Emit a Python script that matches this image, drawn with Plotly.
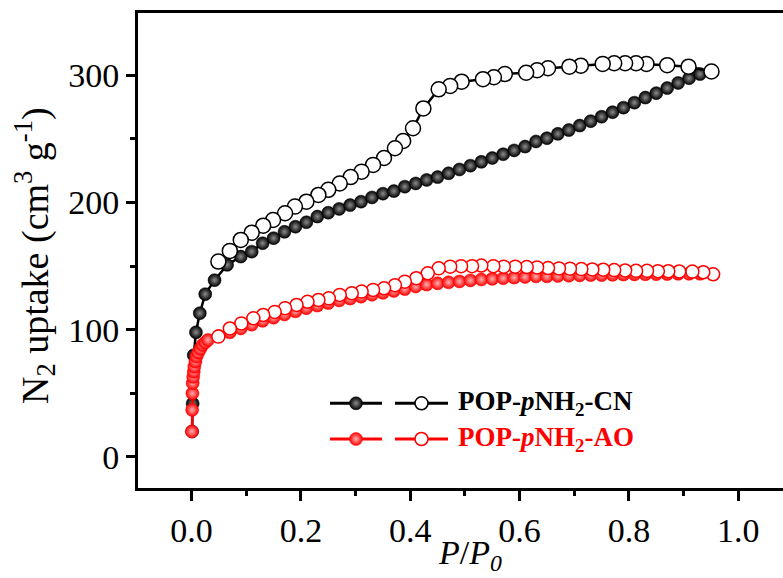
import plotly.graph_objects as go

# ---------------- data ----------------
cn_ads_x = [0.001, 0.002, 0.004, 0.008, 0.015, 0.025, 0.042, 0.065,
            0.09, 0.11, 0.13, 0.15, 0.17, 0.19, 0.21, 0.23, 0.25, 0.27, 0.29, 0.31,
            0.33, 0.35, 0.37, 0.39, 0.41, 0.43, 0.45, 0.47, 0.49, 0.51, 0.53, 0.55,
            0.57, 0.59, 0.61, 0.63, 0.65, 0.67, 0.69, 0.71, 0.73, 0.75, 0.77, 0.79,
            0.81, 0.83, 0.85, 0.87, 0.89, 0.91, 0.93]
cn_ads_y = [20, 42, 80, 98, 113, 128, 139, 151,
            157.5, 161.4, 168, 172, 177, 181, 184.5, 189, 192, 195, 198, 200.7,
            204, 207, 209, 212.5, 215, 217.8, 220, 223, 226, 229, 232, 235,
            238, 241, 244, 248, 250.6, 254, 257, 260.5, 264, 267.5, 271, 274.6,
            278.5, 282.5, 286, 290, 294, 297.7, 301]

cn_des_x = [0.951, 0.909, 0.87, 0.832, 0.813, 0.793, 0.773, 0.752, 0.712, 0.691,
            0.652, 0.632, 0.612, 0.573, 0.553, 0.533, 0.494, 0.473, 0.452, 0.424,
            0.405, 0.387, 0.372, 0.352, 0.332, 0.311, 0.291, 0.271, 0.25, 0.232,
            0.21, 0.189, 0.171, 0.149, 0.131, 0.11, 0.09, 0.07, 0.049]
cn_des_y = [303, 306.8, 308, 309, 309.5, 309.5, 309.5, 309, 307.6, 306.8,
            305.6, 304, 302, 301, 298.5, 297, 295, 291.7, 289, 274,
            258.4, 248.4, 242.7, 235, 229.6, 224.3, 220, 215, 210, 206,
            200.7, 196.8, 191.6, 186.3, 181.8, 176.3, 170.6, 162, 153.6]

ao_ads_x = [0.0005, 0.001, 0.0015, 0.002, 0.003, 0.004, 0.005, 0.007, 0.009, 0.012,
            0.016, 0.02, 0.025, 0.03, 0.05, 0.07, 0.09, 0.11, 0.13, 0.15, 0.17,
            0.19, 0.21, 0.23, 0.25, 0.27, 0.29, 0.31, 0.33, 0.35, 0.37, 0.39, 0.41,
            0.43, 0.45, 0.47, 0.49, 0.51, 0.53, 0.55, 0.57, 0.59, 0.61, 0.63, 0.65,
            0.67, 0.69, 0.71, 0.73, 0.75, 0.77, 0.79, 0.81, 0.83, 0.85, 0.87, 0.89,
            0.91, 0.93]
ao_ads_y = [20, 37, 50, 58, 63, 67, 71, 75, 79, 82,
            85, 88, 90, 92, 95, 98, 101, 104, 107, 109.5, 112,
            114.5, 117, 119, 121, 123, 124.5, 126, 127.5, 129, 130.5, 132, 134,
            135.5, 136.5, 137.3, 138, 138.8, 139.5, 140, 140.5, 141, 141.5, 142, 142,
            142.3, 142.5, 142.7, 143, 143, 143.2, 143.4, 143.5, 143.6, 143.7, 143.8, 144,
            144, 144]

ao_des_x = [0.954, 0.936, 0.916, 0.892, 0.872, 0.853, 0.833, 0.813, 0.793, 0.773,
            0.753, 0.733, 0.713, 0.692, 0.672, 0.652, 0.632, 0.613, 0.592, 0.571,
            0.552, 0.53, 0.513, 0.493, 0.473, 0.452, 0.432, 0.411, 0.39, 0.372,
            0.352, 0.332, 0.311, 0.293, 0.271, 0.251, 0.232, 0.212, 0.192, 0.171,
            0.152, 0.131, 0.113, 0.091, 0.07, 0.049]
ao_des_y = [143.6, 145.2, 145.7, 145.8, 146, 146, 146.3, 146.3, 146.6, 146.9,
            147.2, 147.4, 147.7, 148, 148.2, 148.5, 149, 149.3, 149.6, 149.6,
            150, 150.5, 150, 150, 149.6, 148.3, 144.4, 140.5, 137.8, 135,
            132.6, 131.3, 130, 128.7, 127.4, 124.7, 123.4, 122, 119.5, 117,
            114, 111.6, 109, 105, 101, 94.6]

x_ticks = [0.0, 0.2, 0.4, 0.6, 0.8, 1.0]
x_tick_labels = ["0.0", "0.2", "0.4", "0.6", "0.8", "1.0"]
y_ticks = [0, 100, 200, 300]
y_tick_labels = ["0", "100", "200", "300"]

series_names = ["POP-<i>p</i>NH<sub>2</sub>-CN", "POP-<i>p</i>NH<sub>2</sub>-AO"]

FONT = "Liberation Serif"
BLACK = "#000000"
RED = "#ff0000"
HILITE = {BLACK: "#8c8c8c", RED: "#ffb0b0"}

fig = go.Figure()


def add_iso(x, y, color, filled, size):
    if filled:
        marker = dict(size=size, color=color, symbol="circle",
                      gradient=dict(type="radial", color=HILITE[color]),
                      line=dict(width=0.5, color=color))
    else:
        marker = dict(size=size, color="white", symbol="circle",
                      line=dict(width=1.5, color=color))
    fig.add_trace(go.Scatter(x=x, y=y, mode="lines+markers",
                             line=dict(color=color, width=2.5),
                             marker=marker, showlegend=False, cliponaxis=True))


add_iso(cn_ads_x, cn_ads_y, BLACK, True, 13)
add_iso(cn_des_x, cn_des_y, BLACK, False, 15)
add_iso(ao_ads_x, ao_ads_y, RED, True, 13)
add_iso(ao_des_x, ao_des_y, RED, False, 13)

# ---------- legend drawn on an invisible pixel-scaled overlay axis ----------
W, H = 645, 475  # plot area in pixels
leg_rows = [(BLACK, 84.7, series_names[0]), (RED, 49.0, series_names[1])]
for color, yy, name in leg_rows:
    for (x0, x1), filled in (((192, 244), True), ((257, 310), False)):
        xc = (x0 + x1) / 2
        fig.add_trace(go.Scatter(x=[x0, x1], y=[yy, yy], mode="lines",
                                 line=dict(color=color, width=3),
                                 xaxis="x2", yaxis="y2", showlegend=False,
                                 hoverinfo="skip"))
        if filled:
            mk = dict(size=13, color=color,
                      gradient=dict(type="radial", color=HILITE[color]),
                      line=dict(width=0.5, color=color))
        else:
            mk = dict(size=13, color="white", line=dict(width=1.5, color=color))
        fig.add_trace(go.Scatter(x=[xc], y=[yy], mode="markers", marker=mk,
                                 xaxis="x2", yaxis="y2", showlegend=False,
                                 hoverinfo="skip"))
    fig.add_annotation(x=318, y=yy, xref="x2", yref="y2", text="<b>" + name + "</b>",
                       showarrow=False, xanchor="left", yanchor="middle",
                       font=dict(family=FONT, size=27, color=color))

fig.update_layout(
    width=783, height=578,
    margin=dict(l=138, r=0, t=13, b=90),
    paper_bgcolor="white", plot_bgcolor="white",
    font=dict(family=FONT, color="black"),
    xaxis=dict(range=[-0.098, 1.0818], tickvals=x_ticks, ticktext=x_tick_labels,
               ticks="outside", ticklen=10, tickwidth=3, tickcolor="black",
               showline=True, linewidth=3, linecolor="black", mirror=True,
               showgrid=False, zeroline=False,
               tickfont=dict(family=FONT, size=34),
               minor=dict(tickvals=[-0.1, 0.1, 0.3, 0.5, 0.7, 0.9], ticks="outside",
                          ticklen=5, tickwidth=3, tickcolor="black", showgrid=False)),
    yaxis=dict(range=[-24.4, 349], tickvals=y_ticks, ticktext=y_tick_labels,
               ticks="outside", ticklen=9, tickwidth=3, tickcolor="black",
               showline=True, linewidth=3, linecolor="black", mirror=False,
               showgrid=False, zeroline=False,
               tickfont=dict(family=FONT, size=34),
               minor=dict(tickvals=[50, 150, 250], ticks="outside",
                          ticklen=5, tickwidth=3, tickcolor="black", showgrid=False)),
    xaxis2=dict(range=[0, W], overlaying="x", visible=False, fixedrange=True),
    yaxis2=dict(range=[0, H], overlaying="y", visible=False, fixedrange=True),
    showlegend=False,
)

# axis titles
fig.add_annotation(x=-0.16, y=0.49, xref="paper", yref="paper",
                   text="N<sub>2</sub> uptake (cm<sup>3</sup> g<sup>-1</sup>)",
                   textangle=-90, showarrow=False, xanchor="center", yanchor="middle",
                   font=dict(family=FONT, size=38, color="black"))
fig.add_annotation(x=0.515, y=-0.141, xref="paper", yref="paper",
                   text="<i>P</i>/<i>P<sub>0</sub></i>",
                   showarrow=False, xanchor="center", yanchor="middle",
                   font=dict(family=FONT, size=34, color="black"))

fig.write_html("out.html")
